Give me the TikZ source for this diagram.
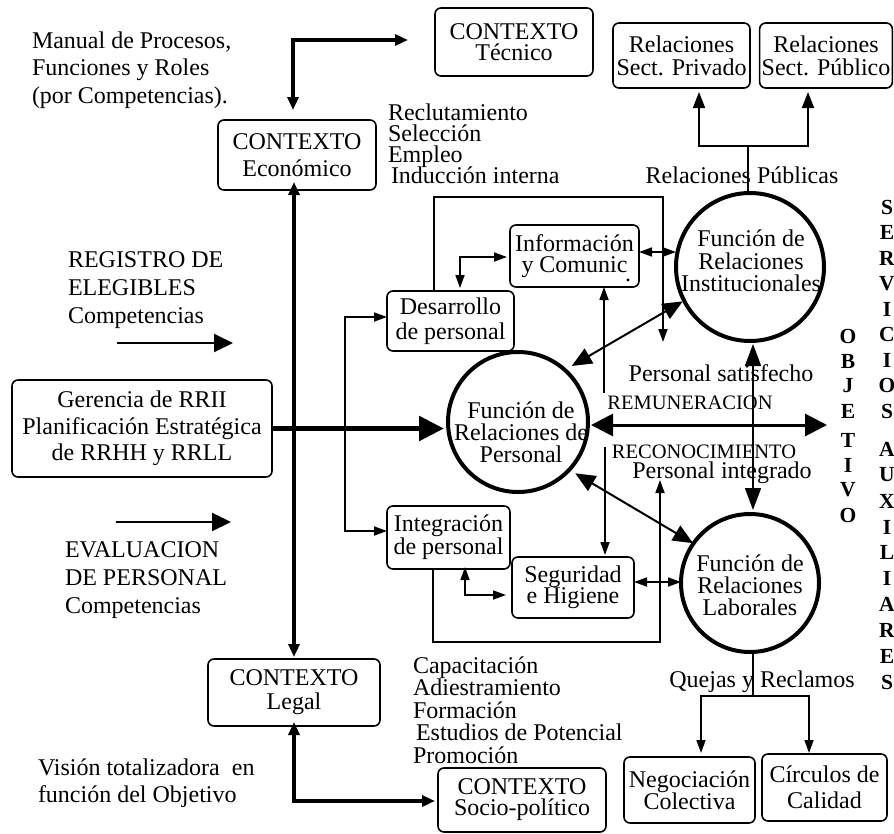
\documentclass[tikz,border=0pt]{standalone}
\usepackage{fontspec}
\setmainfont{Liberation Serif}
\usetikzlibrary{arrows.meta}
\lineskiplimit=-100pt
\begin{document}
\begin{tikzpicture}[x=1pt,y=-1pt,
  every node/.style={inner sep=0pt,outer sep=0pt},
  txt/.style={font=\fontsize{24}{#1}\selectfont,align=center},
  txt/.default=22.5,
  ltxt/.style={font=\fontsize{24}{#1}\selectfont,align=left,anchor=west},
  ltxt/.default=22.5,
  capsl/.style={font=\fontsize{20.5}{22}\selectfont},
  box/.style={draw,rounded corners=6pt,line width=1.6pt,inner xsep=2pt},
  circ/.style={draw,circle,line width=4pt,minimum size=#1},
  letra/.style={font=\fontsize{21.5}{21.5}\selectfont\bfseries},
  heavy/.style={line width=4pt,>={Triangle[length=13pt,width=11pt]}},
  bigarr/.style={line width=5.5pt,>={Triangle[length=25pt,width=24pt]}},
  remarr/.style={line width=3pt,>={Triangle[length=22pt,width=22pt]}},
  diagarr/.style={line width=2pt,>={Triangle[length=20pt,width=17pt]}},
  vertarr/.style={line width=1.7pt,>={Triangle[length=22pt,width=16pt]}},
  regarr/.style={line width=2pt,>={Triangle[length=19pt,width=18pt]}},
  fine/.style={line width=1.7pt,>={Triangle[length=13pt,width=9pt]}},
  prarr/.style={line width=1.7pt,>={Triangle[length=16pt,width=12pt]}},
]
\useasboundingbox (0,0) rectangle (894,833);

% ---- context boxes and side notes ----
\node[ltxt=27.5] (manual) at (32,70) {Manual de Procesos,\\Funciones y Roles\\(por Competencias).};
\node[box,txt=27,minimum width=158pt,minimum height=70pt] (ceco) at (297,155) {CONTEXTO\\Económico};
\node[box,txt=21,minimum width=158pt,minimum height=68pt] (ctec) at (514,42) {CONTEXTO\\Técnico};
\node[box,txt=23,minimum width=137pt,minimum height=65pt] (rpriv) at (681.5,55.5) {Relaciones\\Sect. Privado};
\node[box,txt=23,minimum width=132pt,minimum height=65pt] (rpub) at (826,55.5) {Relaciones\\Sect. Público};
\node[ltxt=21] (reclut) at (388,144) {Reclutamiento\\Selección\\Empleo\\\hspace*{3pt}Inducción interna};
\node[txt] (relpub) at (742,175) {Relaciones Públicas};
\node[ltxt=28] (regis) at (68,290) {REGISTRO DE\\ELEGIBLES\\Competencias};
\node[box,txt=26.5,minimum width=260pt,minimum height=97pt] (geren) at (142,428.5) {Gerencia de RRII\\Planificación Estratégica\\de RRHH y RRLL};
\node[ltxt=28] (evalu) at (65,580) {EVALUACION\\DE PERSONAL\\Competencias};
\node[box,txt=24,minimum width=172pt,minimum height=67pt] (clegal) at (294,692.5) {CONTEXTO\\Legal};
\node[box,txt=21,minimum width=168pt,minimum height=64pt] (csoc) at (522,800) {CONTEXTO\\Socio-político};
\node[ltxt=22.5] (capac) at (413,710) {Capacitación\\Adiestramiento\\Formación\\\hspace*{3pt}Estudios de Potencial\\Promoción};
\node[ltxt=27] (vision) at (38,783) {Visión totalizadora\ \ en\\función del Objetivo};

% ---- inner process boxes ----
\node[box,txt=25,minimum width=127pt,minimum height=60pt] (desa) at (450.5,321) {Desarrollo\\de personal};
\node[box,txt=21,minimum width=129pt,minimum height=62pt] (info) at (574.5,256) {Información\\y Comunic};
\node[font=\fontsize{24}{24}\selectfont,anchor=base] (idot) at (628,281) {.};
\node[box,txt=23,minimum width=123pt,minimum height=63pt] (integ) at (448.5,537.5) {Integración\\de personal};
\node[box,txt=21.5,minimum width=122pt,minimum height=61pt] (segu) at (573,587.5) {Seguridad\\e Higiene};
\node[box,txt=22,minimum width=131pt,minimum height=66pt] (nego) at (689.5,790) {Negociación\\Colectiva};
\node[box,txt=26,minimum width=125pt,minimum height=67pt] (circ) at (824.5,787.5) {Círculos de\\Calidad};

% ---- the three functions ----
\node[circ=148pt] (cinst) at (750,267) {};
\node[txt=22.5] (tinst) at (751,261) {Función de\\Relaciones\\Institucionales};
\node[circ=140pt] (cpers) at (518,422) {};
\node[txt=22] (tpers) at (521,432) {Función de\\Relaciones de\\Personal};
\node[circ=138pt] (clab) at (750,583) {};
\node[txt=22] (tlab) at (750,585) {Función de\\Relaciones\\Laborales};

% ---- flow labels ----
\node[txt] (quejas) at (762,682) {Quejas y Reclamos};
\node[txt] (psat) at (721,373) {Personal satisfecho};
\node[capsl] (remun) at (690,403) {REMUNERACION};
\node[capsl] (recon) at (704,452) {RECONOCIMIENTO};
\node[txt] (pinteg) at (722,473) {Personal integrado};

% ---- vertical captions ----
\foreach \l/\yy [count=\i] in {O/336,B/361,J/386,E/411,T/440,I/465,V/490,O/515}
  \node[letra] (obj\i) at (848,\yy) {\l};
\foreach \l/\yy [count=\i] in {S/207,E/232.5,R/258,V/283.5,I/309,C/334.5,I/360,O/385.5,S/411,A/449,U/475,X/501,I/527,L/552,I/578,A/604,R/630,E/656,S/682}
  \node[letra] (serv\i) at (887,\yy) {\l};

% ---- free ends ----
\coordinate (reg1) at (117,343);
\coordinate (reg2) at (233,343);
\coordinate (ev1) at (116,522);
\coordinate (ev2) at (231,522);
\coordinate (pj) at (748,146);
\coordinate (qj) at (753,696);
\coordinate (obj) at (827,425);
\coordinate (loopA) at (663,342);
\coordinate (loopB) at (660,480);
\coordinate (ltop) at (434,197);
\coordinate (lbot) at (433,642);
\coordinate (infoline) at (604,393);
\coordinate (segline) at (605,447);

% ---- context network ----
\draw[heavy,<->] ([shift={(-4,-10)}]ceco.north) |- ([shift={(-27,-2)}]ctec.west);
\draw[heavy,<->] ([shift={(-3,-8)}]ceco.south) -- ([shift={(0,-2)}]clegal.north);
\draw[heavy,<->] ([shift={(0,-4)}]clegal.south) |- ([shift={(-3,1)}]csoc.west);
\draw[bigarr,->] (geren.east) -- ([shift={(-4,0)}]geren.east -| cpers.west);
\draw[regarr,->] (reg1) -- (reg2);
\draw[regarr,->] (ev1) -- (ev2);

% ---- process loops ----
\draw[fine,->] ([shift={(-16.5,0)}]desa.north) -- (ltop) -| (loopA);
\draw[fine,->] ([shift={(-15.5,0)}]integ.south) -- (lbot) -| (loopB);
\draw[fine,<->] ([shift={(0,-4)}]desa.west) -| ([shift={(-42,-6.5)}]integ.west) -- ([shift={(0,-6.5)}]integ.west);
\draw[fine,<->] ([shift={(9.5,-3)}]desa.north) |- ([shift={(-3,1)}]info.west);
\draw[fine,<->] ([shift={(0,-4)}]info.east) -- ([shift={(0,-4)}]info.east -| cinst.west);
\draw[fine,<-] ([shift={(29.5,0)}]info.south) -- (infoline);
\draw[fine,->] (segline) -- ([shift={(32,-2)}]segu.north);
\draw[fine,<->] ([shift={(16.5,-2)}]integ.south) |- ([shift={(-6,7.5)}]segu.west);
\draw[fine,<->] ([shift={(0,-5.5)}]segu.east) -- ([shift={(0,-5.5)}]segu.east -| clab.west);

% ---- links between functions ----
\draw[vertarr,<->] ([shift={(3,3)}]cinst.south) -- ([shift={(3,-4)}]clab.north);
\draw[remarr,<->] ([shift={(3,3)}]cpers.east) -- (obj);
\draw[diagarr,<->,shorten <=8pt,shorten >=1.5pt] (cpers.48.6) -- (cinst.207.6);
\draw[diagarr,<->,shorten <=7pt,shorten >=0.5pt] (cpers.-43.4) -- (clab.145);

% ---- outputs ----
\draw[fine] ([shift={(-2,0)}]cinst.north) -- (pj);
\draw[prarr,->] (pj) -| ([shift={(17.5,4)}]rpriv.south);
\draw[prarr,->] (pj) -| ([shift={(-18,4)}]rpub.south);
\draw[fine] ([shift={(3,0)}]clab.south) -- (qj);
\draw[fine,->] (qj) -| ([shift={(11.5,-4)}]nego.north);
\draw[fine,->] (qj) -| ([shift={(-15.5,-1)}]circ.north);
\end{tikzpicture}
\end{document}
